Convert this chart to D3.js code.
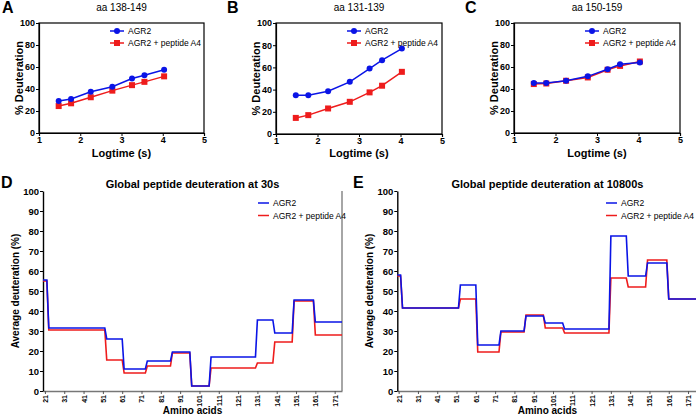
<!DOCTYPE html>
<html><head><meta charset="utf-8">
<script src="https://cdn.jsdelivr.net/npm/d3@7"></script>
<style>
body{margin:0;background:#fff;}
svg{display:block;font-family:"Liberation Sans",Arial,sans-serif;}
</style></head><body>
<svg id="c" width="696" height="415"></svg>
<script>
// ---- data ----
const logTimes = [1.477, 1.778, 2.255, 2.778, 3.255, 3.556, 4.033];
const panelTitles = ["aa 138-149", "aa 131-139", "aa 150-159"];
const aAgr2 = [29, 31, 37.5, 42, 49.5, 52.5, 57.5];
const aA4 = [24.5, 27, 32.5, 38.5, 43.5, 46.5, 51.5];
const bAgr2 = [35, 35, 38.5, 47, 59, 66.5, 77];
const bA4 = [14.5, 17, 23, 29, 37.5, 43.5, 56];
const cAgr2 = [45.5, 45.5, 47.5, 51.5, 58, 62.5, 64];
const cA4 = [44.5, 45, 47.5, 50.5, 57.5, 61, 65];
const logTicks = [1, 2, 3, 4, 5];
const pctTicks = [0, 20, 40, 60, 80, 100];

const segStart = [20, 23, 53, 62, 74, 87, 97, 107, 131, 140, 150, 161];
const segEnd   = [22, 52, 61, 73, 86, 96, 106, 130, 139, 149, 160, 177];
const g30Agr2 = [55.5, 31.5, 26, 11, 15, 19.5, 2.5, 17, 35.5, 29, 45.5, 34.5];
const g30A4   = [55, 30.5, 15.5, 9, 12.5, 19, 2.5, 11.5, 14, 24.5, 45, 28];
const g10800Agr2 = [58, 41.5, 53, 23, 30, 37.5, 34, 31, 77.5, 57.5, 64, 46];
const g10800A4   = [57.5, 41.5, 46, 19.5, 29.5, 38, 31.5, 29, 56.5, 52, 65.5, 46];
const aaTicks = [21, 31, 41, 51, 61, 71, 81, 91, 101, 111, 121, 131, 141, 151, 161, 171];
const avgTicks = [0, 10, 20, 30, 40, 50, 60, 70, 80, 90, 100];
const seriesNames = ["AGR2", "AGR2 + peptide A4"];

const BLUE = "#0a14e6", RED = "#ee1c1c";
const svg = d3.select("#c");

// ---- top panels ----
function topPanel(cfg) {
  const x = d3.scaleLinear().domain([1, 5]).range([cfg.x0, cfg.x1]);
  const y = d3.scaleLinear().domain([0, 100]).range([cfg.yb, cfg.yt]);
  const g = svg.append("g");
  g.append("rect").attr("x", cfg.x0).attr("y", cfg.yt).attr("width", cfg.x1 - cfg.x0)
    .attr("height", cfg.yb - cfg.yt).attr("fill", "none").attr("stroke", "#000").attr("stroke-width", 1.2);
  const xa = g.append("g").attr("transform", `translate(0,${cfg.yb})`)
    .call(d3.axisBottom(x).tickValues(logTicks).tickSize(3).tickPadding(1).tickFormat(d3.format("d")));
  const ya = g.append("g").attr("transform", `translate(${cfg.x0},0)`)
    .call(d3.axisLeft(y).tickValues(pctTicks).tickSize(3).tickPadding(1).tickFormat(d3.format("d")));
  [xa, ya].forEach(a => {
    a.select(".domain").attr("stroke-width", 1.2);
    a.selectAll("text").attr("font-size", 9).attr("font-weight", "bold").attr("fill", "#000");
  });
  g.append("text").attr("x", (cfg.x0 + cfg.x1) / 2).attr("y", 11).attr("text-anchor", "middle")
    .attr("font-size", 10).text(cfg.title);
  g.append("text").attr("x", cfg.lx).attr("y", 13).attr("font-size", 16).attr("font-weight", "bold").text(cfg.letter);
  g.append("text").attr("transform", `translate(${cfg.x0 - 16},${(cfg.yt + cfg.yb) / 2}) rotate(-90)`)
    .attr("text-anchor", "middle").attr("font-size", 11).attr("font-weight", "bold").text("% Deuteration");
  g.append("text").attr("x", (cfg.x0 + cfg.x1) / 2).attr("y", 157).attr("text-anchor", "middle")
    .attr("font-size", 11).attr("font-weight", "bold").text("Logtime (s)");
  const line = d3.line().x((d, i) => x(logTimes[i])).y(d => y(d));
  const ser = [{v: cfg.red, c: RED, sq: true}, {v: cfg.blue, c: BLUE, sq: false}];
  ser.forEach(s => {
    g.append("path").attr("d", line(s.v)).attr("fill", "none").attr("stroke", s.c).attr("stroke-width", 1.5);
    s.v.forEach((d, i) => {
      if (s.sq) g.append("rect").attr("x", x(logTimes[i]) - 3).attr("y", y(d) - 3).attr("width", 6).attr("height", 6).attr("fill", s.c);
      else g.append("circle").attr("cx", x(logTimes[i])).attr("cy", y(d)).attr("r", 3).attr("fill", s.c);
    });
  });
  const lx = cfg.x0 + 71;
  [[BLUE, false, 31, seriesNames[0]], [RED, true, 43, seriesNames[1]]].forEach(([c, sq, yy, t]) => {
    g.append("line").attr("x1", lx).attr("x2", lx + 14).attr("y1", yy).attr("y2", yy).attr("stroke", c).attr("stroke-width", 1.5);
    if (sq) g.append("rect").attr("x", lx + 4).attr("y", yy - 3).attr("width", 6).attr("height", 6).attr("fill", c);
    else g.append("circle").attr("cx", lx + 7).attr("cy", yy).attr("r", 3).attr("fill", c);
    g.append("text").attr("x", lx + 18).attr("y", yy + 3).attr("font-size", 8.5).text(t);
  });
}
topPanel({x0: 39, x1: 204, yt: 23, yb: 133, title: panelTitles[0], letter: "A", lx: 2, blue: aAgr2, red: aA4});
topPanel({x0: 276, x1: 442, yt: 23, yb: 134, title: panelTitles[1], letter: "B", lx: 227, blue: bAgr2, red: bA4});
topPanel({x0: 514, x1: 680, yt: 23, yb: 133, title: panelTitles[2], letter: "C", lx: 465, blue: cAgr2, red: cA4});

// ---- bottom panels ----
function bottomPanel(cfg, idx) {
  const x = d3.scaleLinear().domain(cfg.dom).range([cfg.x0, cfg.x1]);
  const y = d3.scaleLinear().domain([0, 100]).range([391, 191]);
  const g = svg.append("g");
  const clipId = "clip" + idx;
  svg.append("defs").append("clipPath").attr("id", clipId).append("rect")
    .attr("x", cfg.x0).attr("y", 185).attr("width", cfg.x1 - cfg.x0).attr("height", 210);
  g.append("line").attr("x1", cfg.x1).attr("x2", cfg.x1).attr("y1", 191).attr("y2", 391).attr("stroke", "#888").attr("stroke-width", 1.5);
  const xa = g.append("g").attr("transform", "translate(0,391)")
    .call(d3.axisBottom(x).tickValues(aaTicks).tickSize(3).tickSizeOuter(0).tickPadding(2));
  xa.select(".domain").attr("stroke", "#777").attr("stroke-width", 1.6);
  xa.selectAll(".tick line").attr("stroke", "#555");
  xa.selectAll("text").attr("font-size", 7).attr("font-weight", "bold").attr("fill", "#000")
    .attr("transform", "rotate(-90)").attr("text-anchor", "end").attr("dy", "0.35em").attr("x", -4).attr("y", 0);
  const ya = g.append("g").attr("transform", `translate(${cfg.x0},0)`)
    .call(d3.axisLeft(y).tickValues(avgTicks).tickSize(3).tickSizeOuter(0).tickPadding(1));
  ya.select(".domain").attr("stroke-width", 1.4);
  ya.selectAll("text").attr("font-size", 9.5).attr("font-weight", "bold").attr("fill", "#000");
  g.append("text").attr("x", (cfg.x0 + cfg.x1) / 2).attr("y", 188).attr("text-anchor", "middle")
    .attr("font-size", 11).attr("font-weight", "bold").text(cfg.title);
  g.append("text").attr("x", cfg.lx).attr("y", 188).attr("font-size", 16).attr("font-weight", "bold").text(cfg.letter);
  g.append("text").attr("transform", `translate(${cfg.x0 - 24},291) rotate(-90)`)
    .attr("text-anchor", "middle").attr("font-size", 10).attr("font-weight", "bold").text("Average deuteration (%)");
  g.append("text").attr("x", (cfg.x0 + cfg.x1) / 2).attr("y", 414).attr("text-anchor", "middle")
    .attr("font-size", 10).attr("font-weight", "bold").text("Amino acids");
  const pts = v => { const p = []; v.forEach((d, i) => { p.push([segStart[i], d]); p.push([segEnd[i], d]); }); return p; };
  const line = d3.line().x(d => x(d[0])).y(d => y(d[1]));
  [[cfg.red, RED], [cfg.blue, BLUE]].forEach(([v, c]) => {
    g.append("path").attr("clip-path", `url(#${clipId})`).attr("d", line(pts(v)))
      .attr("fill", "none").attr("stroke", c).attr("stroke-width", 1.6);
  });
  const lx = cfg.legX;
  [[BLUE, 203, seriesNames[0]], [RED, 215.5, seriesNames[1]]].forEach(([c, yy, t]) => {
    g.append("line").attr("x1", lx).attr("x2", lx + 11).attr("y1", yy).attr("y2", yy).attr("stroke", c).attr("stroke-width", 1.5);
    g.append("text").attr("x", lx + 15).attr("y", yy + 3).attr("font-size", 8.5).text(t);
  });
}
bottomPanel({x0: 43, x1: 342, dom: [20, 174.8], title: "Global peptide deuteration at 30s", letter: "D", lx: 1, legX: 258, blue: g30Agr2, red: g30A4}, 0);
bottomPanel({x0: 397.3, x1: 697.5, dom: [20.3, 175.9], title: "Global peptide deuteration at 10800s", letter: "E", lx: 353, legX: 606, blue: g10800Agr2, red: g10800A4}, 1);
</script>
</body></html>
